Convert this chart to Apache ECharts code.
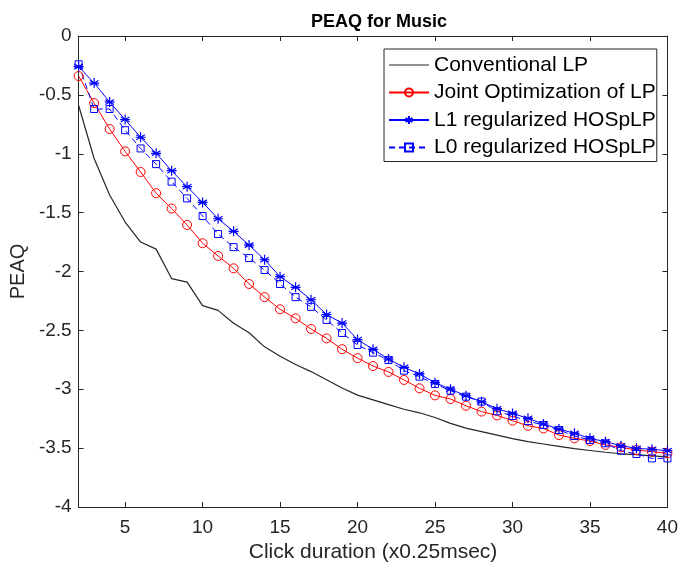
<!DOCTYPE html>
<html>
<head>
<meta charset="utf-8">
<script src="https://cdn.jsdelivr.net/npm/echarts@6/dist/echarts.min.js"></script>
<style>html,body{margin:0;padding:0;background:#fff}#c{width:681px;height:569px}</style>
</head>
<body>
<div id="c"></div>
<script>
var xValues = [2,3,4,5,6,7,8,9,10,11,12,13,14,15,16,17,18,19,20,21,22,23,24,25,26,27,28,29,30,31,32,33,34,35,36,37,38,39,40];
var conventionalLP = [-0.59,-1.04,-1.35,-1.58,-1.75,-1.81,-2.06,-2.09,-2.29,-2.33,-2.44,-2.52,-2.64,-2.72,-2.79,-2.85,-2.92,-2.99,-3.05,-3.09,-3.13,-3.17,-3.20,-3.24,-3.29,-3.33,-3.36,-3.39,-3.42,-3.445,-3.465,-3.485,-3.505,-3.52,-3.535,-3.548,-3.556,-3.565,-3.575];
var jointOptLP = [-0.34,-0.57,-0.79,-0.98,-1.155,-1.335,-1.465,-1.605,-1.76,-1.868,-1.973,-2.106,-2.217,-2.321,-2.398,-2.488,-2.568,-2.66,-2.736,-2.803,-2.853,-2.921,-2.992,-3.052,-3.083,-3.14,-3.19,-3.222,-3.267,-3.31,-3.333,-3.389,-3.417,-3.44,-3.473,-3.493,-3.516,-3.53,-3.544];
var l1HOSpLP = [-0.26,-0.40,-0.56,-0.71,-0.86,-0.996,-1.144,-1.28,-1.413,-1.552,-1.659,-1.776,-1.90,-2.044,-2.134,-2.24,-2.365,-2.438,-2.578,-2.661,-2.743,-2.814,-2.87,-2.944,-3.0,-3.055,-3.107,-3.165,-3.205,-3.247,-3.295,-3.338,-3.374,-3.417,-3.445,-3.479,-3.502,-3.51,-3.522];
var l0HOSpLP = [-0.24,-0.62,-0.62,-0.80,-0.955,-1.088,-1.237,-1.379,-1.529,-1.682,-1.793,-1.886,-1.987,-2.106,-2.218,-2.30,-2.411,-2.522,-2.624,-2.689,-2.752,-2.842,-2.893,-2.955,-3.012,-3.063,-3.105,-3.187,-3.227,-3.27,-3.304,-3.346,-3.397,-3.431,-3.459,-3.522,-3.55,-3.587,-3.587];
var seriesNames = ['Conventional LP','Joint Optimization of LP','L1 regularized HOSpLP','L0 regularized HOSpLP'];
var xTicks = [5,10,15,20,25,30,35,40];
var titleText = 'PEAQ for Music';
var xName = 'Click duration (x0.25msec)';
var yName = 'PEAQ';

function pairs(ys){ return xValues.map(function(x,i){ return [x, ys[i]]; }); }

var FONT = 'Liberation Sans, Arial, Helvetica, sans-serif';
var AX = '#262626';
var asterisk = 'path://M10 0 L10 20 M1.34 5 L18.66 15 M1.34 15 L18.66 5 M0 10 L20 10';

var chart = echarts.init(document.getElementById('c'), null, {renderer:'canvas'});
var baseX = {
  type:'value', min:2, max:40,
  axisLine:{show:true, onZero:false, lineStyle:{color:AX, width:1}},
  axisTick:{show:true, inside:true, length:5, customValues:xTicks, lineStyle:{color:AX}},
  splitLine:{show:false}
};
var baseY = {
  type:'value', min:-4, max:0, interval:0.5,
  axisLine:{show:true, onZero:false, lineStyle:{color:AX, width:1}},
  axisTick:{show:true, inside:true, length:5, lineStyle:{color:AX}},
  splitLine:{show:false}
};
var option = {
  backgroundColor:'#fff',
  animation:false,
  title:{text:titleText, left:306, top:8,
    textStyle:{fontFamily:FONT, fontWeight:'bold', fontSize:18, color:'#000'}},
  grid:{left:77, right:11, top:36, bottom:62, containLabel:false},
  xAxis:[
    Object.assign({}, baseX, {position:'bottom',
      axisLabel:{show:true, customValues:xTicks, margin:11, fontFamily:FONT, fontSize:19, color:AX},
      name:xName, nameLocation:'middle', nameGap:33,
      nameTextStyle:{fontFamily:FONT, fontSize:21, color:AX}}),
    Object.assign({}, baseX, {position:'top', axisLabel:{show:false}})
  ],
  yAxis:[
    Object.assign({}, baseY, {position:'left',
      axisLabel:{show:true, margin:7, fontFamily:FONT, fontSize:19, color:AX},
      name:yName, nameLocation:'middle', nameGap:47,
      nameTextStyle:{fontFamily:FONT, fontSize:20, color:AX}}),
    Object.assign({}, baseY, {position:'right', axisLabel:{show:false}})
  ],
  legend:{
    orient:'vertical', left:384, top:49,
    padding:[5,1,3,4], itemGap:5.5, itemWidth:40, itemHeight:10,
    backgroundColor:'#fff', borderColor:'#262626', borderWidth:1, borderRadius:0,
    textStyle:{fontFamily:FONT, fontSize:21, color:'#000', lineHeight:22},
    data:[
      {name:seriesNames[0], icon:'path://M0 0 L40 0 L40 1.2 L0 1.2 Z'},
      seriesNames[1], seriesNames[2], seriesNames[3]
    ]
  },
  series:[
    {name:seriesNames[0], type:'line', data:pairs(conventionalLP), symbol:'none',
      color:'#262626', lineStyle:{color:'#262626', width:1.2}},
    {name:seriesNames[1], type:'line', data:pairs(jointOptLP), symbol:'circle', symbolSize:9,
      color:'#ff0000', lineStyle:{color:'#ff0000', width:1},
      itemStyle:{color:'rgba(255,255,255,0)', borderColor:'#ff0000', borderWidth:1}},
    {name:seriesNames[2], type:'line', data:pairs(l1HOSpLP), symbol:asterisk, symbolSize:10,
      color:'#0000ff', lineStyle:{color:'#0000ff', width:1},
      itemStyle:{color:'rgba(0,0,255,0)', borderColor:'#0000ff', borderWidth:1.2}},
    {name:seriesNames[3], type:'line', data:pairs(l0HOSpLP), symbol:'rect', symbolSize:7,
      color:'#0000ff', lineStyle:{color:'#0000ff', width:1, type:[6,4]},
      itemStyle:{color:'rgba(255,255,255,0)', borderColor:'#0000ff', borderWidth:1}}
  ]
};
chart.setOption(option);
</script>
</body>
</html>
